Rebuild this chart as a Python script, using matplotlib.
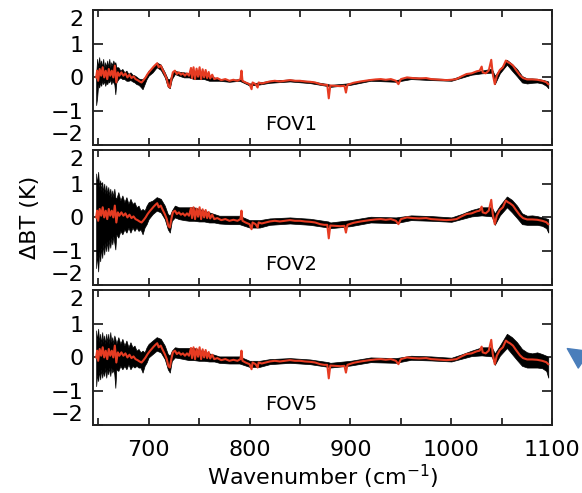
import matplotlib
matplotlib.use("Agg")
import matplotlib.pyplot as plt
from matplotlib.ticker import MultipleLocator

plt.rcParams["font.family"] = ["DejaVu Sans"]

# red: mean difference spectrum (K)
red_wn = [648, 649, 650, 651.5, 653, 654.5, 656, 657.5, 659, 660.5, 662, 663.5, 665, 666.5, 668,
          669.5, 671, 673, 675, 677, 679, 681, 683, 685, 687, 689, 691, 693, 695, 697, 699,
          701, 703, 705, 707, 708.5, 710, 712, 714, 716, 718, 719.5, 721, 722.5, 724, 726,
          728, 730, 732, 734, 736, 738, 740, 742, 743, 744.5, 746, 747.5, 749, 750.5, 752,
          753.5, 755, 756.5, 758, 759.5, 761, 763, 765, 768, 772, 776, 780, 784, 788, 791,
          792, 793, 796, 800, 802, 803, 806, 808, 809, 812, 816, 820, 825, 830, 835, 840,
          845, 850, 855, 860, 865, 870, 874, 877, 878.5, 880, 885, 890, 894, 895.5, 897,
          903, 910, 919, 925, 930, 935, 940, 945, 947.5, 950, 956, 962, 968, 975, 980, 985,
          990, 995, 1000, 1005, 1010, 1015, 1020, 1025, 1028, 1030, 1031, 1034, 1037,
          1039.5, 1041, 1043, 1045, 1048, 1051, 1054, 1056, 1058, 1061, 1064, 1068, 1071,
          1075, 1080, 1085, 1090, 1094, 1096]
red_dbt = [0.0, 0.2, -0.1, 0.25, 0.05, 0.3, 0.0, 0.2, -0.05, 0.25, 0.05, 0.2, 0.0, 0.35, -0.15,
           0.15, 0.05, 0.15, 0.05, 0.12, 0.0, 0.08, -0.02, 0.03, -0.05, -0.08, -0.12, -0.15,
           -0.08, 0.0, 0.1, 0.18, 0.25, 0.32, 0.38, 0.42, 0.3, 0.35, 0.22, 0.1, -0.05, -0.25,
           -0.3, -0.05, 0.15, 0.2, 0.1, 0.15, 0.08, 0.12, 0.05, 0.12, 0.05, 0.28, -0.02, 0.3,
           -0.05, 0.26, 0.02, 0.3, -0.05, 0.24, 0.0, 0.22, -0.02, 0.16, -0.03, 0.08, -0.05, -0.02,
           -0.08, -0.05, -0.1, -0.07, -0.1, -0.05, 0.2, -0.1, -0.15, -0.2, -0.35, -0.15, -0.2,
           -0.3, -0.15, -0.18, -0.15, -0.12, -0.1, -0.12, -0.1, -0.08, -0.1, -0.1, -0.12,
           -0.13, -0.15, -0.2, -0.22, -0.22, -0.62, -0.24, -0.25, -0.26, -0.25, -0.45, -0.22,
           -0.16, -0.12, -0.08, -0.06, -0.05, -0.07, -0.05, -0.1, -0.2, -0.05, 0.0, -0.02,
           -0.03, -0.02, -0.05, -0.06, -0.07, -0.08, -0.07, -0.05, 0.03, 0.1, 0.12, 0.18, 0.2,
           0.32, 0.15, 0.12, 0.2, 0.52, 0.1, -0.2, 0.05, 0.22, 0.3, 0.5, 0.45, 0.42, 0.35,
           0.22, 0.06, -0.02, -0.06, -0.06, -0.07, -0.1, -0.14, -0.2]

# black: spread of the single-FOV spectra, upper / lower edge
env_wn = [648, 649, 650, 651, 652, 653, 654, 655, 656, 657, 658, 659, 660, 661, 662, 663, 664,
          665, 666, 667, 668, 670, 672, 674, 676, 678, 680, 682, 684, 686, 688, 690, 692, 694,
          696, 698, 700, 704, 708, 712, 716, 719, 721, 723, 726, 730, 735, 740, 745, 750, 755,
          760, 765, 770, 780, 790, 800, 810, 820, 840, 860, 878, 880, 900, 920, 945, 960, 980,
          1000, 1010, 1020, 1030, 1040, 1043, 1048, 1055, 1060, 1065, 1070, 1075, 1080, 1085,
          1090, 1094, 1096]

fov1_hi = [0.1, 0.55, 0.3, 0.6, 0.35, 0.5, 0.3, 0.55, 0.25, 0.45, 0.3, 0.5, 0.3, 0.55, 0.3, 0.45,
           0.35, 0.5, 0.4, 0.45, 0.3, 0.3, 0.2, 0.25, 0.15, 0.2, 0.1, 0.15, 0.08, 0.06, 0.02, -0.03,
           -0.05, -0.05, 0.0, 0.1, 0.2, 0.3, 0.44, 0.38, 0.15, -0.05, -0.05, 0.1, 0.2, 0.16, 0.15,
           0.12, 0.12, 0.1, 0.08, 0.02, 0.0, -0.05, -0.08, -0.05, -0.18, -0.15, -0.1, -0.06, -0.11,
           -0.2, -0.22, -0.17, -0.05, -0.08, 0.01, -0.03, -0.05, 0.05, 0.14, 0.2, 0.26, 0.05, 0.25,
           0.52, 0.4, 0.25, 0.04, -0.03, -0.03, -0.04, -0.07, -0.1, -0.12]
fov1_lo = [-0.82, -0.6, -0.2, -0.3, -0.15, -0.25, -0.1, -0.2, -0.1, -0.25, -0.15, -0.2, -0.1,
           -0.15, -0.05, -0.2, -0.1, -0.15, -0.2, -0.5, -0.15, -0.05, 0.0, -0.05, -0.05, -0.1,
           -0.1, -0.08, -0.12, -0.15, -0.2, -0.22, -0.28, -0.35, -0.2, -0.05, 0.05, 0.15, 0.3,
           0.22, 0.0, -0.28, -0.32, -0.05, 0.1, 0.05, 0.0, 0.0, -0.05, -0.05, -0.05, -0.1, -0.1,
           -0.1, -0.13, -0.1, -0.24, -0.21, -0.16, -0.12, -0.17, -0.26, -0.28, -0.22, -0.1,
           -0.13, -0.05, -0.08, -0.1, -0.01, 0.08, 0.12, 0.14, -0.2, 0.12, 0.38, 0.2, 0.03,
           -0.15, -0.18, -0.16, -0.15, -0.18, -0.25, -0.32]

fov2_hi = [1.3, 1.0, 1.35, 0.9, 1.1, 0.8, 1.05, 0.75, 1.0, 0.7, 0.95, 0.7, 0.9, 0.65, 0.85, 0.6,
           0.8, 0.6, 0.85, 0.6, 0.55, 0.75, 0.5, 0.65, 0.45, 0.6, 0.4, 0.55, 0.4, 0.45, 0.3, 0.35,
           0.2, 0.25, 0.2, 0.35, 0.45, 0.5, 0.6, 0.55, 0.35, 0.1, 0.05, 0.2, 0.35, 0.3, 0.3, 0.3,
           0.3, 0.25, 0.2, 0.15, 0.1, 0.05, 0.05, 0.05, -0.08, -0.08, -0.03, 0.0, -0.04, -0.12,
           -0.15, -0.08, 0.02, 0.0, 0.06, 0.04, 0.0, 0.1, 0.22, 0.3, 0.3, 0.12, 0.35, 0.62, 0.52,
           0.35, 0.12, 0.05, 0.06, 0.04, 0.0, -0.03, -0.05]
fov2_lo = [-1.5, -1.1, -1.6, -1.0, -1.3, -0.9, -1.2, -0.8, -1.1, -0.75, -1.0, -0.7, -1.0, -0.65,
           -0.9, -0.6, -0.8, -0.55, -0.75, -0.95, -0.5, -0.6, -0.4, -0.5, -0.35, -0.45, -0.3,
           -0.45, -0.3, -0.4, -0.3, -0.4, -0.35, -0.5, -0.3, -0.2, -0.05, 0.1, 0.2, 0.15, -0.05,
           -0.35, -0.45, -0.1, 0.0, -0.05, -0.08, -0.1, -0.1, -0.12, -0.12, -0.15, -0.15, -0.18,
           -0.2, -0.2, -0.3, -0.3, -0.22, -0.18, -0.22, -0.3, -0.32, -0.26, -0.15, -0.17, -0.08,
           -0.1, -0.13, -0.05, 0.03, 0.06, 0.03, -0.22, 0.06, 0.3, 0.15, -0.02, -0.2, -0.22,
           -0.22, -0.22, -0.25, -0.32, -0.45]

fov5_hi = [0.8, 0.5, 0.85, 0.45, 0.7, 0.4, 0.75, 0.45, 0.65, 0.4, 0.7, 0.45, 0.7, 0.4, 0.75,
           0.45, 0.6, 0.4, 0.65, 0.55, 0.4, 0.6, 0.4, 0.55, 0.35, 0.5, 0.3, 0.45, 0.3, 0.35, 0.2,
           0.25, 0.15, 0.2, 0.15, 0.3, 0.4, 0.5, 0.6, 0.55, 0.35, 0.1, 0.05, 0.2, 0.3, 0.28,
           0.28, 0.28, 0.28, 0.22, 0.18, 0.12, 0.08, 0.03, 0.03, 0.03, -0.1, -0.1, -0.05, -0.02,
           -0.06, -0.14, -0.16, -0.1, 0.0, -0.02, 0.05, 0.03, -0.01, 0.09, 0.2, 0.3, 0.3, 0.12,
           0.35, 0.7, 0.6, 0.45, 0.25, 0.15, 0.12, 0.15, 0.1, 0.05, 0.0]
fov5_lo = [-0.85, -0.5, -0.7, -0.4, -0.65, -0.35, -0.6, -0.4, -0.55, -0.3, -0.6, -0.35, -0.5,
           -0.3, -0.55, -0.3, -0.45, -0.35, -0.5, -0.9, -0.35, -0.4, -0.25, -0.35, -0.25, -0.35,
           -0.2, -0.35, -0.25, -0.3, -0.25, -0.3, -0.3, -0.45, -0.25, -0.15, 0.0, 0.1, 0.2,
           0.15, -0.05, -0.35, -0.45, -0.1, 0.0, -0.02, -0.05, -0.08, -0.08, -0.1, -0.1, -0.12,
           -0.12, -0.16, -0.18, -0.18, -0.28, -0.28, -0.2, -0.16, -0.2, -0.28, -0.3, -0.24,
           -0.14, -0.16, -0.07, -0.09, -0.12, -0.04, 0.04, 0.06, 0.03, -0.22, 0.05, 0.28, 0.1,
           -0.08, -0.25, -0.3, -0.3, -0.3, -0.32, -0.4, -0.6]

panels = [("FOV1", fov1_hi, fov1_lo), ("FOV2", fov2_hi, fov2_lo), ("FOV5", fov5_hi, fov5_lo)]
bottoms = [0.706, 0.422, 0.138]

fig = plt.figure(figsize=(5.82, 4.93), dpi=100)
axes = []
for (name, hi, lo), b in zip(panels, bottoms):
    ax = fig.add_axes([0.160, b, 0.789, 0.274])
    ax.fill_between(env_wn, lo, hi, color="black", lw=0.5)
    ax.plot(red_wn, red_dbt, color="#e63b22", lw=1.5)
    ax.text(841, -1.4, name, fontsize=14, ha="center", va="center")
    ax.set_xlim(645, 1100)
    ax.set_ylim(-2, 2)
    ax.xaxis.set_major_locator(MultipleLocator(100))
    ax.xaxis.set_minor_locator(MultipleLocator(50))
    ax.tick_params(axis="x", which="both", direction="in", top=True, length=5, width=1.1,
                   labelsize=16, pad=11)
    ax.tick_params(axis="y", direction="in", right=True, length=7, width=1.1, labelsize=16,
                   pad=7)
    for s in ax.spines.values():
        s.set_linewidth(1.4)
        s.set_color("#222222")
    ax.set_yticks([-2, -1, 0, 1, 2])
    ax.set_yticklabels(["\u22122", "\u22121", "0", "1", "2"])
    ylabs = ax.get_yticklabels()
    ylabs[0].set_va("bottom")
    ylabs[-1].set_va("top")
    axes.append(ax)

for ax in axes[:2]:
    ax.tick_params(axis="x", labelbottom=False)

axes[2].set_xlabel("Wavenumber (cm$^{-1}$)", fontsize=16, labelpad=2)
fig.text(30 / 582, 1 - 217 / 493, "\u0394BT (K)", rotation=90, fontsize=16,
         ha="center", va="center")

# blue pointer at the right edge
axes[2].annotate("", xy=(565, 146), xytext=(602, 121), xycoords="figure pixels",
                 textcoords="figure pixels", annotation_clip=False,
                 arrowprops=dict(arrowstyle="simple,head_length=0.9,head_width=0.9,tail_width=0.35",
                                 color="#4a7ebb", mutation_scale=16))

fig.savefig("out.png", dpi=100)
